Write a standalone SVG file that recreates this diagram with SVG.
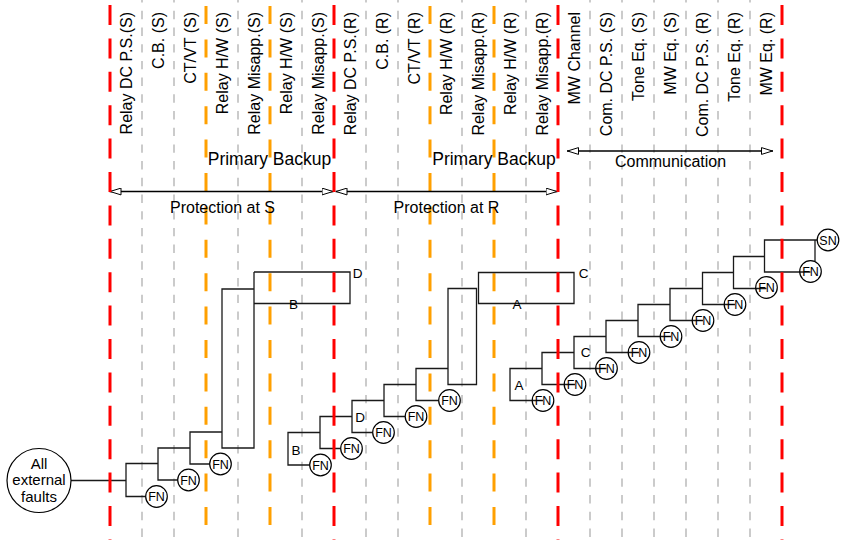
<svg xmlns="http://www.w3.org/2000/svg" width="841" height="540" viewBox="0 0 841 540">
  <defs>
    <style>
      .hdr { font-family: "Liberation Sans", Arial, sans-serif; font-size: 16px; fill: #000; text-anchor: end; }
      .band { font-family: "Liberation Sans", Arial, sans-serif; font-size: 16px; fill: #000; text-anchor: middle; }
      .band-lg { font-family: "Liberation Sans", Arial, sans-serif; font-size: 17.5px; fill: #000; text-anchor: middle; }
      .tag { font-family: "Liberation Sans", Arial, sans-serif; font-size: 13.5px; fill: #000; text-anchor: middle; }
      .ev { font-family: "Liberation Sans", Arial, sans-serif; font-size: 12.5px; fill: #000; text-anchor: middle; }
      .big { font-family: "Liberation Sans", Arial, sans-serif; font-size: 15px; fill: #000; text-anchor: middle; }
      .wire { fill: none; stroke: #1a1a1a; stroke-width: 1.3; }
      .node { fill: #fff; stroke: #000; stroke-width: 1.2; }
      .node-open { fill: none; stroke: #000; stroke-width: 1.2; }
      .span { fill: none; stroke: #000; stroke-width: 1.5; marker-start: url(#tri); marker-end: url(#tri); }
      .red { stroke: #ff0000; stroke-width: 3; stroke-dasharray: 20 13.4; }
      .org { stroke: #ffa000; stroke-width: 3; stroke-dasharray: 18 15.4; }
      .gry { stroke: #bfbfbf; stroke-width: 1.6; stroke-dasharray: 8.4 8.3; }
    </style>
    <marker id="tri" viewBox="0 0 12 8" refX="12" refY="4" markerWidth="12" markerHeight="8" markerUnits="userSpaceOnUse" orient="auto-start-reverse">
      <path d="M0.5,0.6 L11.5,4 L0.5,7.4 Z" fill="#fff" stroke="#000" stroke-width="1"/>
    </marker>
  </defs>

  <rect width="841" height="540" fill="#fff"/>

  <!-- column separators (component boundaries) -->
  <g id="grid-minor" fill="none">
    <line class="gry" x1="142" y1="-5.9" x2="142" y2="540"/>
    <line class="gry" x1="174" y1="-5.9" x2="174" y2="540"/>
    <line class="gry" x1="238" y1="-5.9" x2="238" y2="540"/>
    <line class="gry" x1="302" y1="-5.9" x2="302" y2="540"/>
    <line class="gry" x1="366" y1="-5.9" x2="366" y2="540"/>
    <line class="gry" x1="398" y1="-5.9" x2="398" y2="540"/>
    <line class="gry" x1="462" y1="-5.9" x2="462" y2="540"/>
    <line class="gry" x1="526" y1="-5.9" x2="526" y2="540"/>
    <line class="gry" x1="590" y1="-5.9" x2="590" y2="540"/>
    <line class="gry" x1="622" y1="-5.9" x2="622" y2="540"/>
    <line class="gry" x1="654" y1="-5.9" x2="654" y2="540"/>
    <line class="gry" x1="686" y1="-5.9" x2="686" y2="540"/>
    <line class="gry" x1="718" y1="-5.9" x2="718" y2="540"/>
    <line class="gry" x1="750" y1="-5.9" x2="750" y2="540"/>
    <line class="org" x1="206" y1="6" x2="206" y2="540"/>
    <line class="org" x1="270" y1="6" x2="270" y2="540"/>
    <line class="org" x1="430" y1="6" x2="430" y2="540"/>
    <line class="org" x1="494" y1="6" x2="494" y2="540"/>
  </g>

  <!-- column headings -->
  <g id="headings">
    <text class="hdr" transform="translate(132,12) rotate(-90)">Relay DC P.S.(S)</text>
    <text class="hdr" transform="translate(164,12) rotate(-90)">C.B. (S)</text>
    <text class="hdr" transform="translate(196,12) rotate(-90)">CT/VT (S)</text>
    <text class="hdr" transform="translate(228,12) rotate(-90)">Relay H/W (S)</text>
    <text class="hdr" transform="translate(260,12) rotate(-90)">Relay Misapp.(S)</text>
    <text class="hdr" transform="translate(292,12) rotate(-90)">Relay H/W (S)</text>
    <text class="hdr" transform="translate(324,12) rotate(-90)">Relay Misapp.(S)</text>
    <text class="hdr" transform="translate(356,12) rotate(-90)">Relay DC P.S.(R)</text>
    <text class="hdr" transform="translate(388,12) rotate(-90)">C.B. (R)</text>
    <text class="hdr" transform="translate(420,12) rotate(-90)">CT/VT (R)</text>
    <text class="hdr" transform="translate(452,12) rotate(-90)">Relay H/W (R)</text>
    <text class="hdr" transform="translate(484,12) rotate(-90)">Relay Misapp.(R)</text>
    <text class="hdr" transform="translate(516,12) rotate(-90)">Relay H/W (R)</text>
    <text class="hdr" transform="translate(548,12) rotate(-90)">Relay Misapp.(R)</text>
    <text class="hdr" transform="translate(580,12) rotate(-90)">MW Channel</text>
    <text class="hdr" transform="translate(612,12) rotate(-90)">Com. DC P.S. (S)</text>
    <text class="hdr" transform="translate(644,12) rotate(-90)">Tone Eq. (S)</text>
    <text class="hdr" transform="translate(676,12) rotate(-90)">MW Eq. (S)</text>
    <text class="hdr" transform="translate(708,12) rotate(-90)">Com. DC P.S. (R)</text>
    <text class="hdr" transform="translate(740,12) rotate(-90)">Tone Eq. (R)</text>
    <text class="hdr" transform="translate(772,12) rotate(-90)">MW Eq. (R)</text>
  </g>

  <!-- band labels and span arrows -->
  <g id="bands">
    <text class="band-lg" x="269.5" y="165">Primary Backup</text>
    <text class="band-lg" x="494" y="165">Primary Backup</text>
    <text class="band" x="670.5" y="167">Communication</text>
    <text class="band" x="222.5" y="213">Protection at S</text>
    <text class="band" x="446.5" y="213">Protection at R</text>
    <line class="span" x1="109.5" y1="191.5" x2="333.5" y2="191.5"/>
    <line class="span" x1="335.5" y1="191.5" x2="557.5" y2="191.5"/>
    <line class="span" x1="567" y1="151" x2="773" y2="151"/>
  </g>

  <!-- staircase connectors -->
  <g id="connectors" class="wire">
    <!-- sending-end protection -->
    <path d="M71,480.5 H126"/>
    <path d="M158,463.5 H126 V496.5 H156.5"/>
    <path d="M190,448 H158 V480 H188.5"/>
    <path d="M222,432 H190 V464 H220.5"/>
    <path d="M254,289 H222 V448 H254 V272"/>
    <!-- receiving-end protection -->
    <path d="M320,432.5 H288 V465 H320.5"/>
    <path d="M352,416.5 H320 V448.5 H351.5"/>
    <path d="M384,400.5 H352 V432.5 H383.5"/>
    <path d="M416,384.5 H384 V416.5 H416"/>
    <path d="M448,368.5 H416 V400.5 H449.5"/>
    <!-- communication -->
    <path d="M542,368.5 H510 V400.5 H543"/>
    <path d="M574,352.5 H542 V384.5 H575"/>
    <path d="M606,336.5 H574 V368.5 H606.5"/>
    <path d="M638,320.5 H606 V352.5 H639"/>
    <path d="M670,304.5 H638 V336.5 H671"/>
    <path d="M702.5,288.5 H670 V320.5 H703"/>
    <path d="M733.5,272.5 H702.5 V304.5 H735"/>
    <path d="M764.5,256.5 H733.5 V288.5 H766.5"/>
    <path d="M817,240 H764.5 V272 H810.5"/>
    <path d="M815,240 V261"/>
  </g>

  <!-- transfer boxes -->
  <g id="box-BD" class="wire">
    <path d="M254,272 H350 V303.5 H254"/>
  </g>
  <g id="box-tall-R" class="wire">
    <path d="M448,288.5 H476.5 V384.5 H448 Z"/>
  </g>
  <g id="box-AC" class="wire">
    <path d="M478.5,272.5 H574 V303.5 H478.5 Z"/>
  </g>

  <!-- section boundaries -->
  <g id="grid-major" fill="none">
    <line class="red" x1="110" y1="5" x2="110" y2="540"/>
    <line class="red" x1="334" y1="5" x2="334" y2="540"/>
    <line class="red" x1="558" y1="5" x2="558" y2="540"/>
    <line class="red" x1="782" y1="5" x2="782" y2="540"/>
  </g>

  <!-- box labels -->
  <g id="labels">
    <text class="tag" x="357.5" y="277.5">D</text>
    <text class="tag" x="293.5" y="309">B</text>
    <text class="tag" x="583.5" y="277.5">C</text>
    <text class="tag" x="517" y="308.5">A</text>
    <text class="tag" x="296" y="454.5">B</text>
    <text class="tag" x="360" y="422">D</text>
    <text class="tag" x="519" y="389.5">A</text>
    <text class="tag" x="585.5" y="357">C</text>
  </g>

  <!-- initiating event -->
  <g id="all-external-faults">
    <circle class="node" cx="39" cy="480.5" r="32"/>
    <text class="big" x="39" y="468.5">All</text>
    <text class="big" x="39" y="485">external</text>
    <text class="big" x="39" y="501.5">faults</text>
  </g>

  <!-- failure nodes, sending end -->
  <g id="fn-s1"><circle class="node" cx="156.5" cy="496.5" r="10.8"/><text class="ev" x="156.5" y="501">FN</text></g>
  <g id="fn-s2"><circle class="node" cx="188.5" cy="480" r="10.8"/><text class="ev" x="188.5" y="484.5">FN</text></g>
  <g id="fn-s3"><circle class="node" cx="220.5" cy="464" r="10.8"/><text class="ev" x="220.5" y="468.5">FN</text></g>

  <!-- failure nodes, receiving end -->
  <g id="fn-r1"><circle class="node" cx="320.5" cy="465" r="10.8"/><text class="ev" x="320.5" y="469.5">FN</text></g>
  <g id="fn-r2"><circle class="node" cx="351.5" cy="448.5" r="10.8"/><text class="ev" x="351.5" y="453">FN</text></g>
  <g id="fn-r3"><circle class="node" cx="383.5" cy="432.5" r="10.8"/><text class="ev" x="383.5" y="437">FN</text></g>
  <g id="fn-r4"><circle class="node" cx="416" cy="416.5" r="10.8"/><text class="ev" x="416" y="421">FN</text></g>
  <g id="fn-r5"><circle class="node" cx="449.5" cy="400.5" r="10.8"/><text class="ev" x="449.5" y="405">FN</text></g>

  <!-- failure nodes, communication -->
  <g id="fn-c1"><circle class="node-open" cx="543" cy="400.5" r="10.8"/><text class="ev" x="543" y="405">FN</text></g>
  <g id="fn-c2"><circle class="node-open" cx="575" cy="384.5" r="10.8"/><text class="ev" x="575" y="389">FN</text></g>
  <g id="fn-c3"><circle class="node-open" cx="606.5" cy="368.5" r="10.8"/><text class="ev" x="606.5" y="373">FN</text></g>
  <g id="fn-c4"><circle class="node-open" cx="639" cy="352.5" r="10.8"/><text class="ev" x="639" y="357">FN</text></g>
  <g id="fn-c5"><circle class="node-open" cx="671" cy="336.5" r="10.8"/><text class="ev" x="671" y="341">FN</text></g>
  <g id="fn-c6"><circle class="node-open" cx="703" cy="320.5" r="10.8"/><text class="ev" x="703" y="325">FN</text></g>
  <g id="fn-c7"><circle class="node-open" cx="735" cy="304.5" r="10.8"/><text class="ev" x="735" y="309">FN</text></g>
  <g id="fn-c8"><circle class="node-open" cx="766.5" cy="287.5" r="10.8"/><text class="ev" x="766.5" y="292">FN</text></g>
  <g id="fn-c9"><circle class="node-open" cx="810.5" cy="271.5" r="10.8"/><text class="ev" x="810.5" y="276">FN</text></g>
  <g id="sn"><circle class="node-open" cx="828" cy="240" r="10.8"/><text class="ev" x="828" y="244.5">SN</text></g>
</svg>
